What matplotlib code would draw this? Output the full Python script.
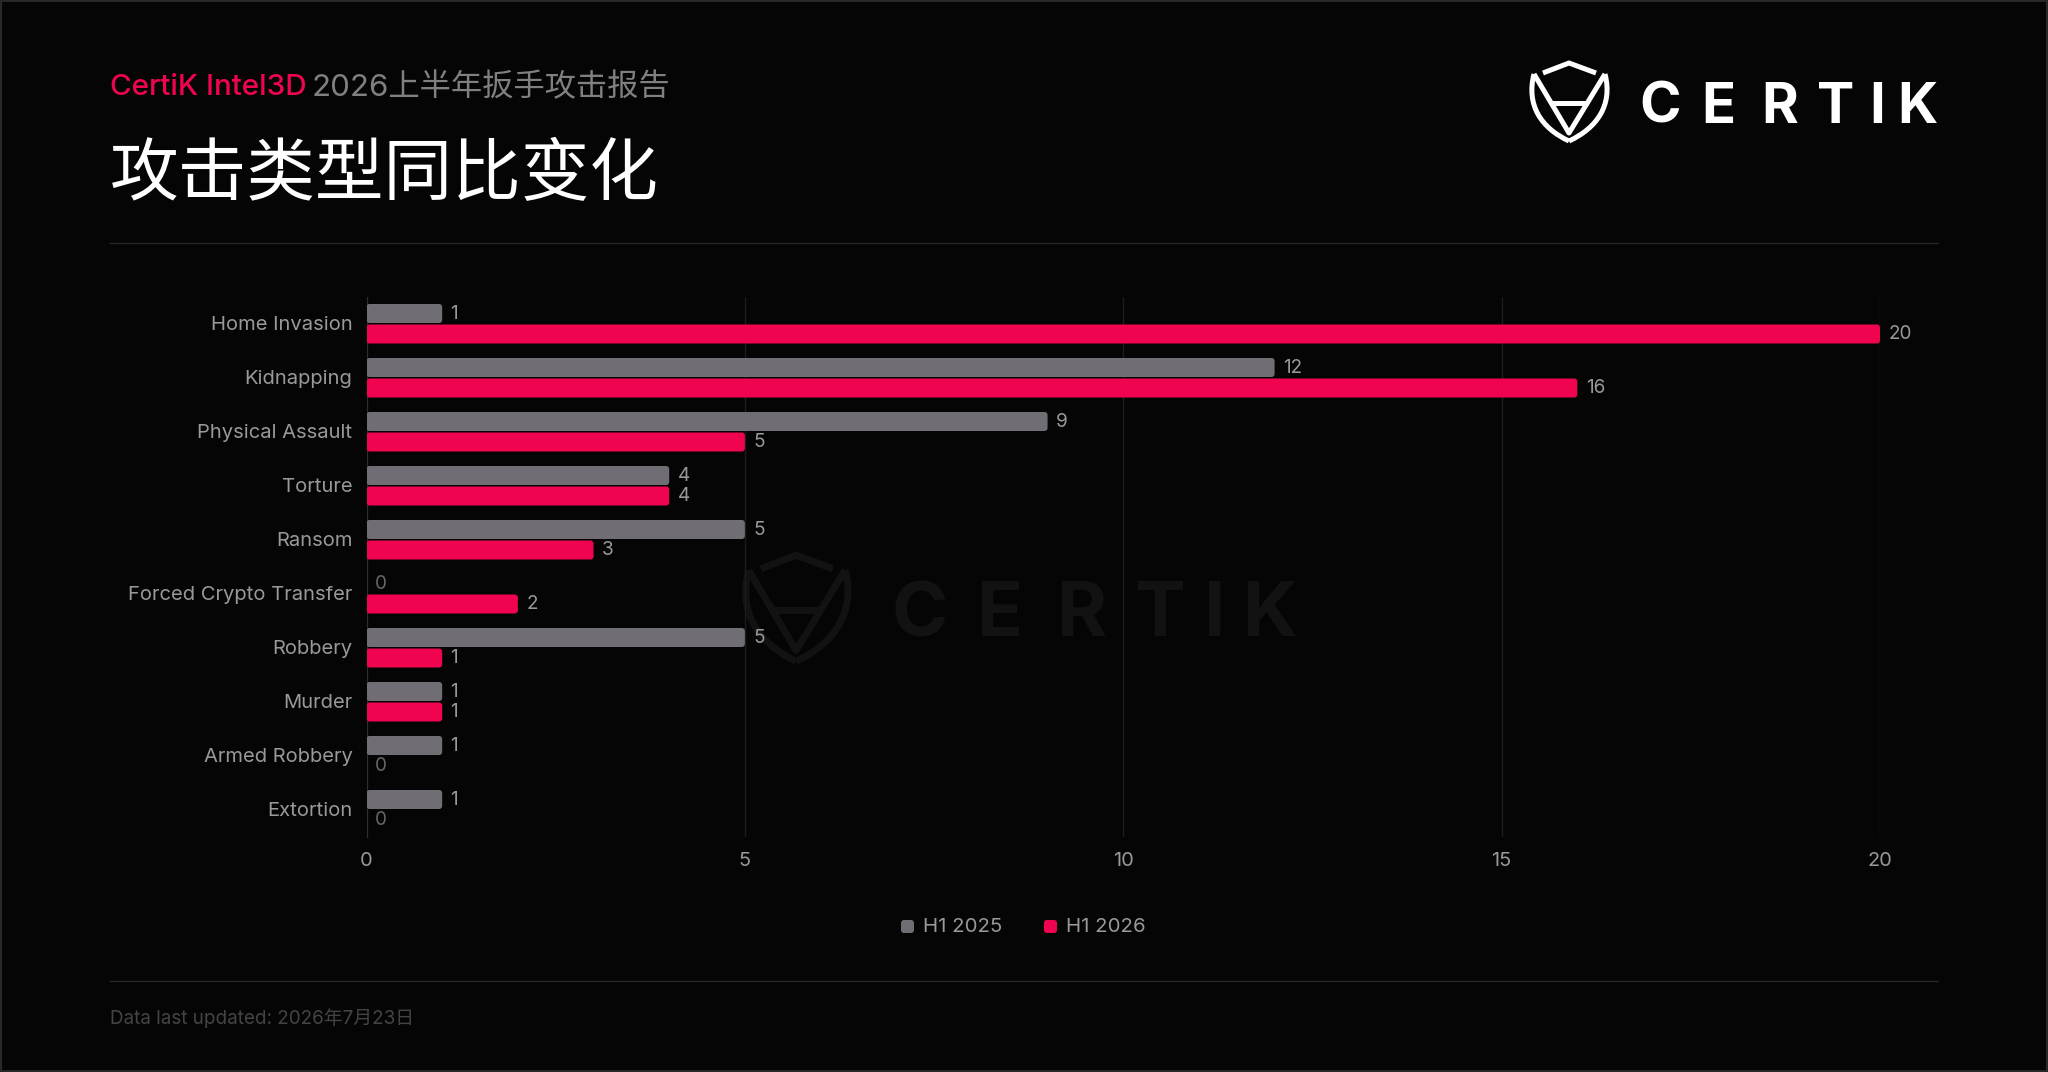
import matplotlib
matplotlib.use("Agg")
import matplotlib.pyplot as plt
from matplotlib.patches import FancyBboxPatch, PathPatch, Rectangle
from matplotlib.path import Path
from matplotlib.transforms import ScaledTranslation

plt.rcParams['font.family'] = ['Inter', 'Noto Sans CJK SC', 'DejaVu Sans']

categories = ["Home Invasion", "Kidnapping", "Physical Assault", "Torture", "Ransom",
              "Forced Crypto Transfer", "Robbery", "Murder", "Armed Robbery", "Extortion"]
h1_2025 = [1, 12, 9, 4, 5, 0, 5, 1, 1, 1]
h1_2026 = [20, 16, 5, 4, 3, 2, 1, 1, 0, 0]
x_ticks = [0, 5, 10, 15, 20]
logo_letters = ["C", "E", "R", "T", "I", "K"]

BG = "#050505"
GRAY = "#716D74"
RED = "#F0044F"
TEXT = "#999999"

fig = plt.figure(figsize=(20.48, 10.72), dpi=100, facecolor=BG)

# background layer in pixel coordinates, for header, footer and logos
bg = fig.add_axes([0, 0, 1, 1])
bg.set_xlim(0, 2048)
bg.set_ylim(1072, 0)
bg.axis("off")
bg.add_patch(Rectangle((1, 1), 2046, 1070, fill=False, edgecolor="#2a2a2a", linewidth=1.4))


def px(size):
    return size * 0.72


def draw_logo(fx, fy, s, color, lw, zorder=1):
    # fx, fy map the logo drawing coordinates to the page
    def shape(verts, codes):
        verts = [(fx(x), fy(y)) for x, y in verts]
        bg.add_patch(PathPatch(Path(verts, codes), fill=False, edgecolor=color, linewidth=px(lw),
                               capstyle="butt", joinstyle="round", zorder=zorder))
    M, L, C = Path.MOVETO, Path.LINETO, Path.CURVE4
    shape([(1543, 73), (1569, 63), (1596, 73)], [M, L, L])
    shape([(1534, 74), (1526, 105), (1541, 128), (1569, 141)], [M, C, C, C])
    shape([(1605, 74), (1613, 105), (1597, 128), (1569, 141)], [M, C, C, C])
    shape([(1534, 74), (1569, 133), (1605, 74)], [M, L, L])
    shape([(1551, 103), (1588, 103)], [M, L])
    lefts = [1638.5, 1699, 1761, 1815, 1873, 1897]
    rights = [1681, 1738.5, 1798, 1857, 1881, 1938.5]
    for letter, a, b in zip(logo_letters, lefts, rights):
        bg.text(fx((a + b) / 2), fy(122.7), letter, color=color, ha="center", va="baseline",
                fontsize=px(56 * s), fontweight="bold", zorder=zorder)


draw_logo(lambda x: x, lambda y: y, 1.0, "#FFFFFF", 5)
draw_logo(lambda x: 890 + (x - 1638) * 1.36, lambda y: 581 + (y - 82) * 1.36, 1.36, "#121212", 7)

bg.text(110, 87.5, "CertiK Intel3D", color=RED, fontsize=px(29.6), fontweight="medium", ha="left", va="center")
bg.text(312, 87.5, "2026上半年扳手攻击报告", color="#808080", fontsize=px(31.3), ha="left", va="center")
bg.text(110, 177, "攻击类型同比变化", color="#FFFFFF", fontsize=px(68.7), ha="left", va="center")
bg.plot([110, 1938], [243, 243], color="#262626", lw=1)
bg.plot([110, 1938], [981, 981], color="#262626", lw=1)
bg.text(110, 1018, "Data last updated: 2026年7月23日", color="#444444", fontsize=px(18.9), ha="left", va="center")

# legend
bg.add_patch(FancyBboxPatch((901, 920), 13, 13, boxstyle="round,pad=0,rounding_size=3", fc=GRAY, ec="none"))
bg.text(923, 927, "H1 2025", color=TEXT, fontsize=px(20.4), ha="left", va="center")
bg.add_patch(FancyBboxPatch((1044, 920), 13, 13, boxstyle="round,pad=0,rounding_size=3", fc=RED, ec="none"))
bg.text(1066, 927, "H1 2026", color=TEXT, fontsize=px(20.4), ha="left", va="center")

# chart
ax = fig.add_axes([366.5 / 2048, (1072 - 837) / 1072, (1880 - 366.5) / 2048, 540 / 1072])
ax.patch.set_alpha(0)
ax.set_xlim(0, 20)
ax.set_ylim(len(categories) - 0.5, -0.5)
for s in ["top", "right", "bottom"]:
    ax.spines[s].set_visible(False)
ax.spines["left"].set_color("#2e2e2e")
ax.set_xticks(x_ticks)
ax.set_yticks(range(len(categories)))
ax.set_yticklabels(categories)
ax.tick_params(axis="x", length=0, pad=11, labelsize=px(20), labelcolor=TEXT)
ax.tick_params(axis="y", length=0, pad=10, labelsize=px(20.2), labelcolor=TEXT)
ax.grid(axis="x", color="#1c1c1c", lw=1)
ax.set_axisbelow(True)
# the category labels sit a little higher than the band centre
nudge = ScaledTranslation(0, 1.3 / 100, fig.dpi_scale_trans)
for label in ax.get_yticklabels():
    label.set_transform(label.get_transform() + nudge)

bar_h = 19 / 54
for offset, values, color in [(-10.5 / 54, h1_2025, GRAY), (10 / 54, h1_2026, RED)]:
    for i, v in enumerate(values):
        y = i + offset
        if v > 0:
            ax.add_patch(FancyBboxPatch((0, y - bar_h / 2), v, bar_h,
                                        boxstyle="round,pad=0,rounding_size=0.04",
                                        mutation_aspect=1.39, fc=color, ec="none", zorder=3))
        ax.annotate(str(v), (v, y), xytext=(6, -0.3), textcoords="offset points", ha="left", va="center",
                    color=TEXT if v > 0 else "#666666", fontsize=px(19), zorder=4)

fig.savefig("out.png", dpi=100, facecolor=BG)
